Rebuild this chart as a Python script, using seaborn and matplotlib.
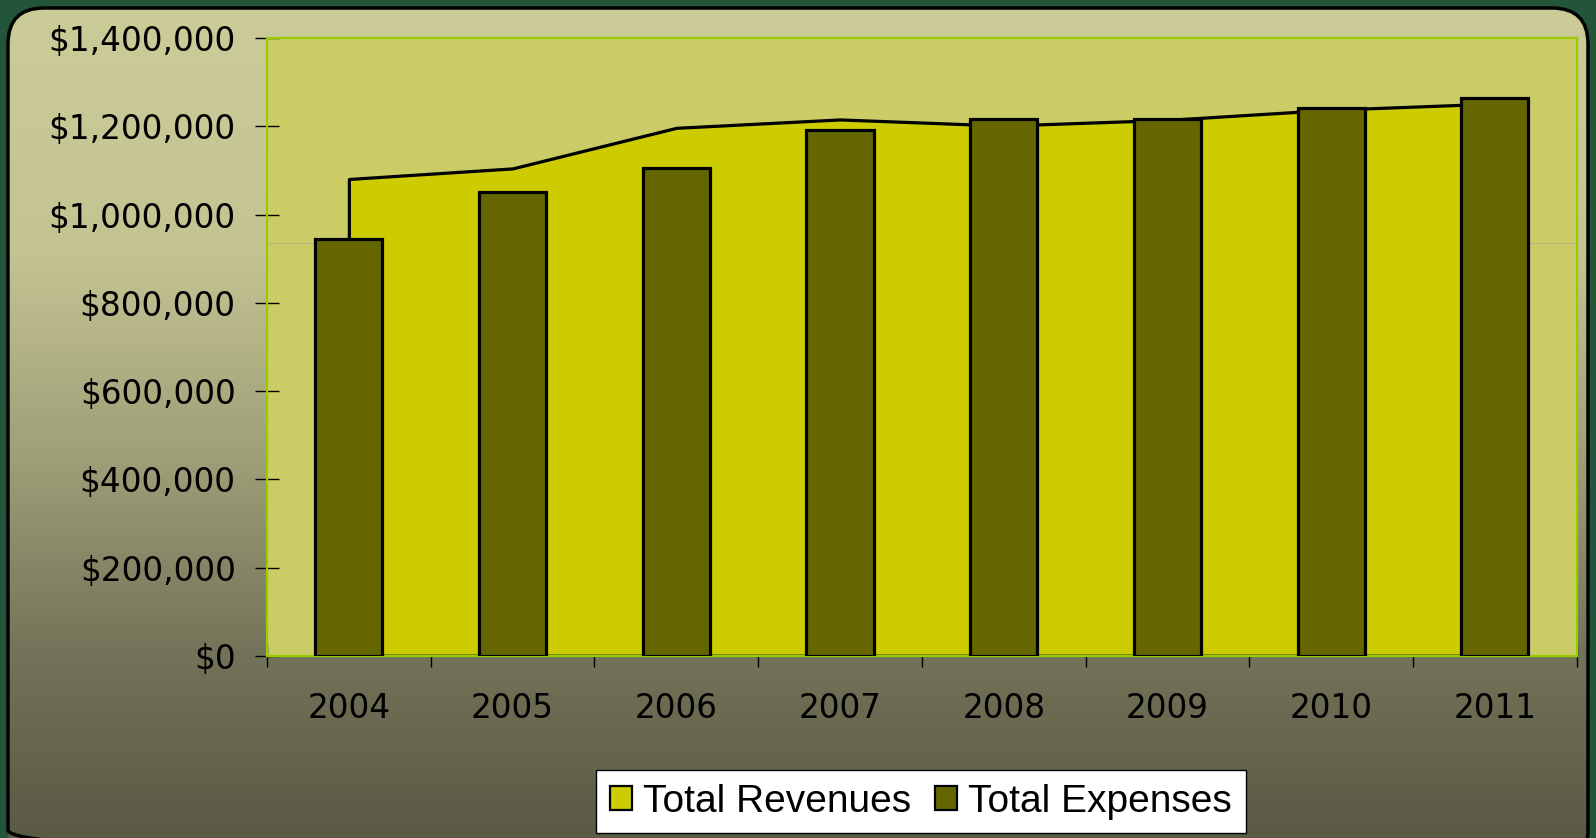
import numpy as np
import pandas as pd
import matplotlib
matplotlib.use("Agg")
import matplotlib.pyplot as plt
from matplotlib.patches import FancyBboxPatch, Patch
from matplotlib.ticker import FuncFormatter, FixedLocator
from matplotlib.colors import LinearSegmentedColormap
import seaborn as sns

# ── data ───────────────────────────────────────────────────────────────────
years    = ["2004", "2005", "2006", "2007", "2008", "2009", "2010", "2011"]
revenues = [1081000, 1105000, 1197000, 1216000, 1202000, 1215000, 1238000, 1252000]
expenses = [946000, 1051000, 1105000, 1192000, 1216000, 1216000, 1241000, 1265000]
y_ticks  = [0, 200000, 400000, 600000, 800000, 1000000, 1200000, 1400000]

df = pd.DataFrame({"Year": years, "Revenues": revenues, "Expenses": expenses})

W, H = 1596, 838
sns.set_theme(style="white")
plt.rcParams["font.family"] = ["DejaVu Sans"]
plt.rcParams["text.color"] = "black"

fig = plt.figure(figsize=(W / 100, H / 100), dpi=100)
fig.patch.set_facecolor("#23553a")

# ── rounded gradient panel ────────────────────────────────────────────────
bg = fig.add_axes([0, 0, 1, 1], zorder=0)
bg.set_xlim(0, W)
bg.set_ylim(H, 0)
bg.axis("off")
panel = FancyBboxPatch((8, 8), W - 16, H + 20,
                       boxstyle="round,pad=0,rounding_size=36",
                       facecolor="none", edgecolor="none")
bg.add_patch(panel)
grad_cmap = LinearSegmentedColormap.from_list(
    "panel", [(0.0, "#CCCC99"), (0.3, "#C4C493"), (0.55, "#9E9E78"),
              (0.78, "#737359"), (1.0, "#5A5A45")])
grad = np.linspace(0, 1, 256).reshape(-1, 1)
im = bg.imshow(grad, cmap=grad_cmap, aspect="auto", extent=[0, W, H, 0])
im.set_clip_path(panel)
border = FancyBboxPatch((8, 8), W - 16, H + 20,
                        boxstyle="round,pad=0,rounding_size=36",
                        facecolor="none", edgecolor="black", linewidth=2.5)
bg.add_patch(border)

# ── main chart ────────────────────────────────────────────────────────────
ax = fig.add_axes([267 / W, 1 - 655.7 / H, 1309.7 / W, 617.4 / H], zorder=2)
ax.set_facecolor("#CCCC66")

pos = np.arange(len(years))
ax.axhline(936000, color="#B5B58C", lw=0.8, zorder=1)
ax.fill_between(pos, df["Revenues"], 0, facecolor="#CCCC00",
                edgecolor="black", linewidth=2.3, zorder=2)
sns.barplot(data=df, x="Year", y="Expenses", color="#666600", saturation=1,
            edgecolor="black", linewidth=2.3, width=0.41, ax=ax, zorder=3)

ax.set_xlim(-0.5, len(years) - 0.5)
ax.set_ylim(0, 1400000)
ax.set_xlabel("")
ax.set_ylabel("")

ax.yaxis.set_major_locator(FixedLocator(y_ticks))
ax.yaxis.set_major_formatter(FuncFormatter(lambda v, p: f"${v:,.0f}"))
ax.tick_params(axis="y", which="major", direction="inout", length=17,
               width=1, color="black", labelcolor="black", labelsize=23.5,
               pad=14, left=True)

ax.xaxis.set_minor_locator(FixedLocator(np.arange(-0.5, len(years), 1.0)))
ax.tick_params(axis="x", which="major", length=0, labelsize=23.5,
               labelcolor="black", pad=26)
ax.tick_params(axis="x", which="minor", direction="inout", length=16,
               width=1, color="black", bottom=True)

for s in ax.spines.values():
    s.set_color("#99CC00")
    s.set_linewidth(1.6)
    s.set_visible(True)

# ── legend ────────────────────────────────────────────────────────────────
handles = [Patch(facecolor="#CCCC00", edgecolor="black", linewidth=1.6, label="Total Revenues"),
           Patch(facecolor="#666600", edgecolor="black", linewidth=1.6, label="Total Expenses")]
leg = fig.legend(handles=handles, loc="center", ncol=2,
                 bbox_to_anchor=(921 / W, 1 - 801.5 / H),
                 prop={"family": "Liberation Sans", "size": 28},
                 handlelength=0.56, handleheight=0.56, handletextpad=0.3,
                 columnspacing=0.6, borderpad=0.35, borderaxespad=0,
                 frameon=True, fancybox=False)
leg.get_frame().set_facecolor("white")
leg.get_frame().set_edgecolor("black")
leg.get_frame().set_linewidth(1.0)
leg.get_frame().set_alpha(1)
leg.set_zorder(5)
for t in leg.get_texts():
    t.set_color("black")

fig.savefig("out.png", dpi=100, facecolor=fig.get_facecolor())
